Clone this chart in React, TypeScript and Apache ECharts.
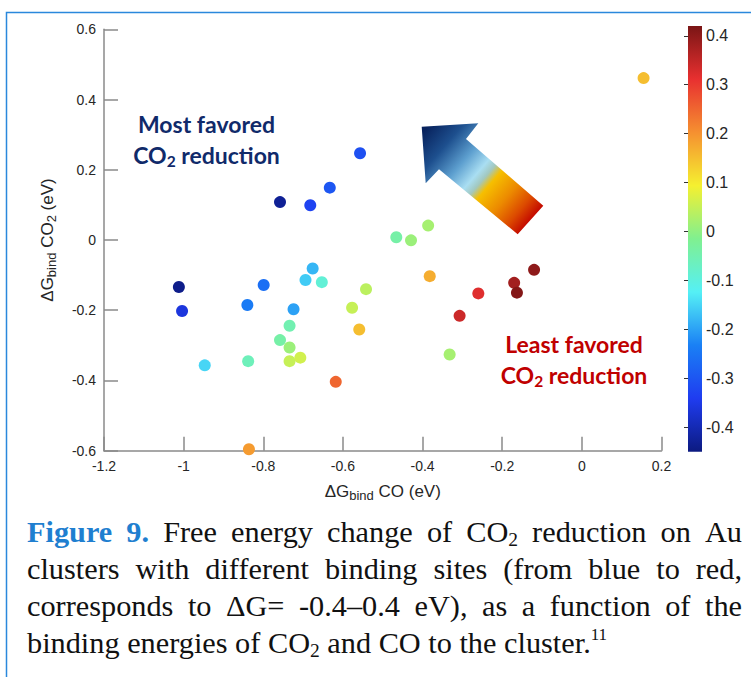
import React, { useEffect, useRef } from 'react';
import * as echarts from 'echarts';

// ---- data ----
const coBind = [
  -0.557, -0.758, -0.682, -0.633, -0.466, -0.676, -0.694, -0.653, -1.012, -0.799,
  -0.542, -1.004, -0.840, -0.724, -0.577, -0.734, -0.559, -0.758, -0.734, -0.947,
  -0.838, -0.734, -0.707, -0.618, -0.836, 0.155, -0.386, -0.429, -0.382, -0.120,
  -0.170, -0.163, -0.260, -0.307, -0.332,
];
const co2Bind = [
  0.247, 0.108, 0.099, 0.149, 0.008, -0.081, -0.114, -0.120, -0.134, -0.128,
  -0.140, -0.202, -0.185, -0.197, -0.193, -0.244, -0.255, -0.285, -0.306, -0.357,
  -0.345, -0.345, -0.335, -0.404, -0.596, 0.461, 0.041, -0.001, -0.103, -0.085,
  -0.122, -0.150, -0.152, -0.216, -0.326,
];
const deltaG = [
  -0.31, -0.43, -0.33, -0.30, -0.04, -0.18, -0.16, -0.09, -0.44, -0.26,
  0.04, -0.36, -0.24, -0.20, 0.05, -0.05, 0.15, -0.04, 0.01, -0.15,
  -0.06, 0.05, 0.06, 0.25, 0.19, 0.15, 0.02, 0.01, 0.17, 0.40,
  0.38, 0.41, 0.32, 0.34, 0.02,
];
const colorRange = [-0.45, 0.42];
const colorbarTicks = [-0.4, -0.3, -0.2, -0.1, 0, 0.1, 0.2, 0.3, 0.4];
const jetColors = ['#0c1a80', '#1f3cf0', '#1a80f5', '#55f0f5', '#80f090', '#f5f030', '#f59030', '#e83030', '#7a1515'];

const captionLines = [
  '[b]Figure [b]9. Free energy change of CO_2 reduction on Au',
  'clusters with different binding sites (from blue to red,',
  'corresponds to \u0394G= -0.4\u20130.4 eV), as a function of the',
  'binding energies of CO_2 and CO to the cluster.^11',
];

const SANS = '"Liberation Sans", Arial, Helvetica, sans-serif';
const SERIF = '"Liberation Serif", "Times New Roman", serif';
const ANNOT = 'Lato, "Open Sans", sans-serif';
const CAP = 30.3;

const segFonts: Record<string, { size: number; weight: string; color: string }> = {
  n: { size: CAP, weight: 'normal', color: '#111111' },
  b: { size: CAP, weight: 'bold', color: '#1f7fd0' },
  sub: { size: 19.5, weight: 'normal', color: '#111111' },
  sup: { size: 17, weight: 'normal', color: '#111111' },
};
const capRich = {
  n: { fontSize: CAP, fontFamily: SERIF, fill: '#111111', color: '#111111', lineHeight: 34 },
  b: { fontSize: CAP, fontFamily: SERIF, fontWeight: 'bold', fill: '#1f7fd0', color: '#1f7fd0', lineHeight: 34 },
  sub: { fontSize: 19.5, fontFamily: SERIF, fill: '#111111', color: '#111111', lineHeight: 19, verticalAlign: 'bottom' },
  sup: { fontSize: 17, fontFamily: SERIF, fill: '#111111', color: '#111111', lineHeight: 21, verticalAlign: 'top' },
};

function parseWord(word: string): [string, string][] {
  if (word.startsWith('[b]')) return [['b', word.slice(3)]];
  let m = word.match(/^(.*)_(.+)$/);
  if (m) return [['n', m[1]], ['sub', m[2]]];
  m = word.match(/^(.*)\^(.+)$/);
  if (m) return [['n', m[1]], ['sup', m[2]]];
  return [['n', word]];
}

function buildCaption(): any[] {
  const canvas = document.createElement('canvas');
  const ctx = canvas.getContext('2d')!;
  const measure = (t: string, k: string) => {
    const f = segFonts[k];
    ctx.font = `${f.weight} ${f.size}px ${SERIF}`;
    return ctx.measureText(t).width;
  };
  ctx.font = `${CAP}px ${SERIF}`;
  const spaceW = ctx.measureText(' ').width;
  const left = 27;
  const right = 742;
  const firstY = 532;
  const lineStep = 37;
  const els: any[] = [];
  captionLines.forEach((line, li) => {
    const words = line.split(' ').map(parseWord);
    const widths = words.map((segs) => segs.reduce((s, [k, t]) => s + measure(t, k), 0));
    const total = widths.reduce((a, b) => a + b, 0);
    const last = li === captionLines.length - 1;
    const gap = last ? spaceW : (right - left - total) / (words.length - 1);
    let x = left;
    words.forEach((segs, wi) => {
      els.push({
        type: 'text',
        x,
        y: firstY + li * lineStep,
        silent: true,
        style: {
          text: segs.map(([k, t]) => `{${k}|${t}}`).join(''),
          rich: capRich,
          align: 'left',
          verticalAlign: 'middle',
        },
      });
      x += widths[wi] + gap;
    });
  });
  return els;
}

function annotation(line1: string, x: number, y: number, color: string): any[] {
  const a = { fontSize: 23, fontWeight: 'bold', fontFamily: ANNOT, fill: color, color, lineHeight: 27 };
  const s = { fontSize: 15.5, fontWeight: 'bold', fontFamily: ANNOT, fill: color, color, lineHeight: 14, verticalAlign: 'bottom' };
  return [
    { type: 'text', x, y, silent: true, style: { text: `{a|${line1}}`, rich: { a }, align: 'center', verticalAlign: 'middle' } },
    { type: 'text', x, y: y + 31, silent: true, style: { text: '{a|CO}{s|2}{a| reduction}', rich: { a, s }, align: 'center', verticalAlign: 'middle' } },
  ];
}

export default function App() {
  const ref = useRef<HTMLDivElement>(null);
  useEffect(() => {
    if (!ref.current) return;
    const chart = echarts.init(ref.current, undefined, { renderer: 'svg' });
    const points = coBind.map((x, i) => [x, co2Bind[i], deltaG[i]]);
    const stops = jetColors.map((c, i) => ({ offset: i / (jetColors.length - 1), color: c }));
    const fmt = (v: number) => String(Math.round(v * 10) / 10);
    const axisNameRich = {
      n: { fontSize: 17, fontFamily: SANS, color: '#262626', lineHeight: 21 },
      s: { fontSize: 13, fontFamily: SANS, color: '#262626', lineHeight: 3, verticalAlign: 'bottom' },
    };
    const arrowGrad = new echarts.graphic.LinearGradient(425, 130, 532, 222, [
      { offset: 0, color: '#08235e' },
      { offset: 0.18, color: '#1d4f8e' },
      { offset: 0.35, color: '#5d9fcf' },
      { offset: 0.48, color: '#a9def2' },
      { offset: 0.54, color: '#a2c8c0' },
      { offset: 0.6, color: '#f6bf00' },
      { offset: 0.75, color: '#ec8a00' },
      { offset: 0.88, color: '#dc4a00' },
      { offset: 1, color: '#c00000' },
    ], true);

    const axisLine = { show: true, onZero: false, lineStyle: { color: '#8a8a8a', width: 1.5 } };
    const axisTick = { show: true, inside: true, length: 14, lineStyle: { color: '#8a8a8a', width: 1.5 } };

    const option: any = {
      animation: false,
      backgroundColor: '#ffffff',
      grid: [
        { left: 104, top: 29.3, width: 557.5, height: 421.4 },
        { left: 688, top: 26, width: 14, height: 425.7 },
      ],
      xAxis: [
        {
          type: 'value', gridIndex: 0, min: -1.2, max: 0.2, interval: 0.2,
          axisLine, axisTick,
          splitLine: { show: false },
          axisLabel: { formatter: fmt, fontSize: 14, fontFamily: SANS, color: '#262626', margin: 8 },
          name: '{n|\u0394G}{s|bind}{n| CO (eV)}',
          nameLocation: 'middle', nameGap: 30,
          nameTextStyle: { rich: axisNameRich },
        },
        { type: 'value', gridIndex: 1, min: 0, max: 1, show: false },
      ],
      yAxis: [
        {
          type: 'value', gridIndex: 0, min: -0.6, max: 0.6, interval: 0.2,
          axisLine, axisTick,
          splitLine: { show: false },
          axisLabel: { formatter: fmt, fontSize: 14, fontFamily: SANS, color: '#262626', margin: 8 },
          name: '{n|\u0394G}{s|bind}{n| CO}{s|2}{n| (eV)}',
          nameLocation: 'middle', nameGap: 46, nameRotate: 90,
          nameTextStyle: { rich: axisNameRich },
        },
        {
          type: 'value', gridIndex: 1, min: colorRange[0], max: colorRange[1], position: 'right',
          axisLine: { show: false },
          splitLine: { show: false },
          axisTick: { show: true, inside: true, length: 4, customValues: colorbarTicks, lineStyle: { color: '#333333' } },
          axisLabel: { customValues: colorbarTicks, formatter: fmt, fontSize: 16, fontFamily: SANS, color: '#262626', margin: 4 },
        },
      ],
      visualMap: {
        type: 'continuous', show: false, seriesIndex: 0, dimension: 2,
        min: colorRange[0], max: colorRange[1],
        inRange: { color: jetColors },
      },
      series: [
        {
          type: 'scatter', xAxisIndex: 0, yAxisIndex: 0, symbolSize: 12,
          data: points, itemStyle: { opacity: 1 },
        },
        {
          type: 'custom', xAxisIndex: 1, yAxisIndex: 1, silent: true,
          data: [[0, colorRange[0], 1, colorRange[1]]],
          renderItem: (_p: any, api: any) => {
            const a = api.coord([api.value(0), api.value(1)]);
            const b = api.coord([api.value(2), api.value(3)]);
            return {
              type: 'rect',
              shape: { x: a[0], y: b[1], width: b[0] - a[0], height: a[1] - b[1] },
              style: { fill: new echarts.graphic.LinearGradient(0, 1, 0, 0, stops) },
            };
          },
        },
      ],
      graphic: [
        {
          type: 'rect', silent: true, z: 0,
          shape: { x: 6.5, y: 12.5, width: 800, height: 700 },
          style: { fill: 'none', stroke: '#2a88dc', lineWidth: 1.5 },
        },
        {
          type: 'polygon', silent: true,
          shape: {
            points: [
              [421.7, 126.7], [478.3, 123.3], [466, 139], [543.3, 205.7],
              [517.7, 234.3], [439, 169.3], [425.7, 183.3],
            ],
          },
          style: { fill: arrowGrad },
        },
        ...annotation('Most favored', 206.5, 124, '#102a6a'),
        ...annotation('Least favored', 574, 344, '#c00000'),
        ...buildCaption(),
      ],
    };
    chart.setOption(option);
    return () => chart.dispose();
  }, []);
  return <div ref={ref} style={{ position: 'absolute', left: 0, top: 0, width: 751, height: 677 }} />;
}
